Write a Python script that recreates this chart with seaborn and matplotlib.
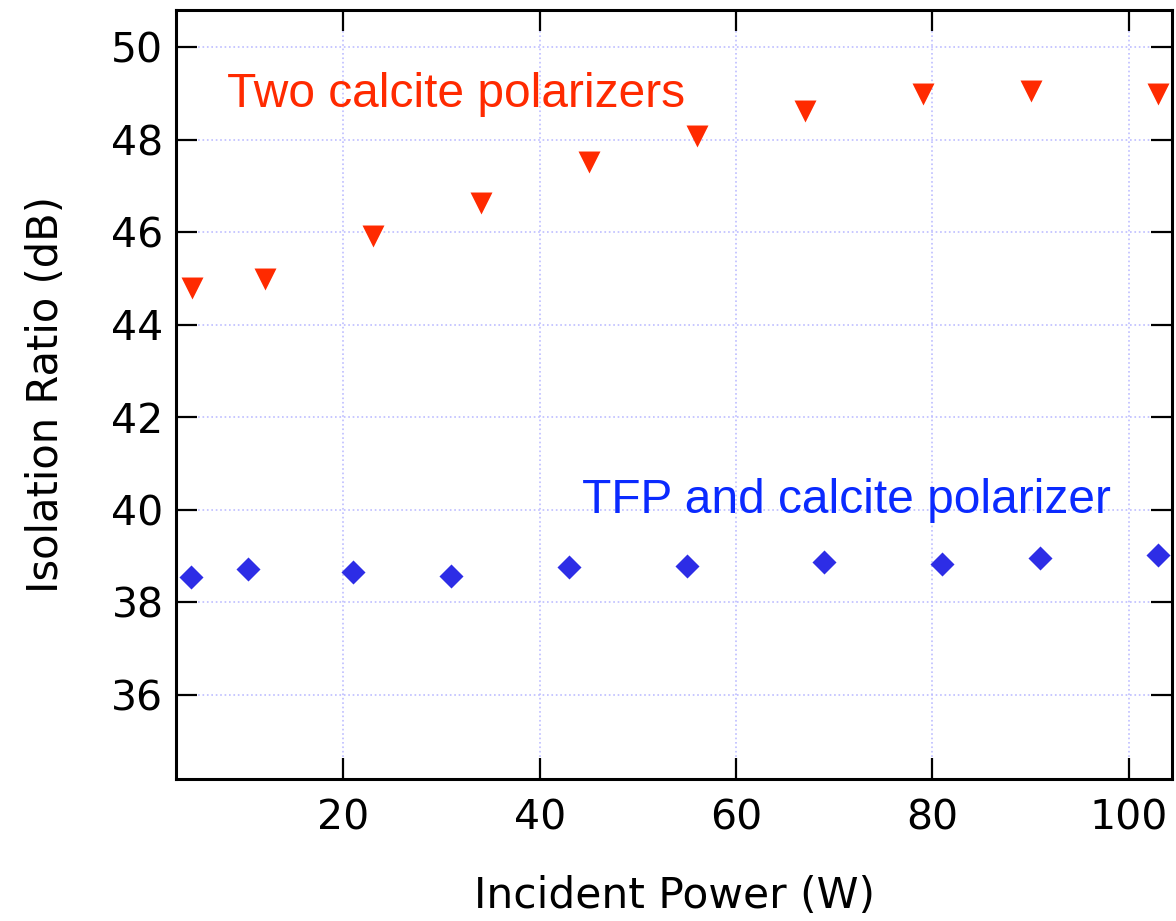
import matplotlib
matplotlib.use("Agg")
import matplotlib.pyplot as plt
import seaborn as sns
import pandas as pd

# ---- data ----
power_calcite = [4.6, 12, 23, 34, 45, 56, 67, 79, 90, 103]
ratio_calcite = [44.79, 45.00, 45.91, 46.63, 47.51, 48.09, 48.63, 48.98, 49.05, 48.99]
power_tfp = [4.5, 10.3, 21, 31, 43, 55, 69, 81, 91, 103]
ratio_tfp = [38.54, 38.72, 38.65, 38.56, 38.77, 38.79, 38.87, 38.83, 38.96, 39.02]

x_ticks = [20, 40, 60, 80, 100]
y_ticks = [36, 38, 40, 42, 44, 46, 48, 50]
label_calcite = "Two calcite polarizers"
label_tfp = "TFP and calcite polarizer"
x_label = "Incident Power (W)"
y_label = "Isolation Ratio (dB)"

df_calcite = pd.DataFrame({"power": power_calcite, "ratio": ratio_calcite})
df_tfp = pd.DataFrame({"power": power_tfp, "ratio": ratio_tfp})

sns.set_style("ticks")
plt.rcParams["font.family"] = ["DejaVu Sans"]

fig = plt.figure(figsize=(11.76, 9.21), dpi=100)
ax = fig.add_axes([176 / 1176, 1 - 779 / 921, (1172 - 176) / 1176, (779 - 10) / 921])

red = "#FF2A00"
blue_mk = "#2D2DE6"
blue_tx = "#0A2AFF"

sns.scatterplot(data=df_calcite, x="power", y="ratio", marker="v", s=250,
                color=red, linewidth=0, ax=ax, zorder=3)
sns.scatterplot(data=df_tfp, x="power", y="ratio", marker="D", s=150,
                color=blue_mk, linewidth=0, ax=ax, zorder=3)

ax.set_xlim(2.96, 104.4)
ax.set_ylim(34.18, 50.806)
ax.set_xticks(x_ticks)
ax.set_yticks(y_ticks)

ax.set_axisbelow(True)
ax.grid(True, color="#BDBDFF", linestyle=":", linewidth=1.2)

for side in ["left", "right", "top", "bottom"]:
    ax.spines[side].set_visible(True)
    ax.spines[side].set_linewidth(2.2)
    ax.spines[side].set_color("black")

ax.tick_params(axis="both", which="major", direction="in", length=15, width=1.6,
               top=True, right=True, labelsize=29.5, colors="black")
ax.tick_params(axis="y", pad=9)
ax.tick_params(axis="x", pad=14)

ax.set_xlabel(x_label, fontsize=30.5, labelpad=26, color="black")
ax.set_ylabel(y_label, fontsize=30, labelpad=32, color="black")

ax.text(8.18, 48.70, label_calcite, color=red, fontsize=34.5,
        family=["Liberation Sans", "DejaVu Sans"], va="baseline", ha="left")
ax.text(44.35, 39.94, label_tfp, color=blue_tx, fontsize=34.5,
        family=["Liberation Sans", "DejaVu Sans"], va="baseline", ha="left")

fig.savefig("out.png", dpi=100)
